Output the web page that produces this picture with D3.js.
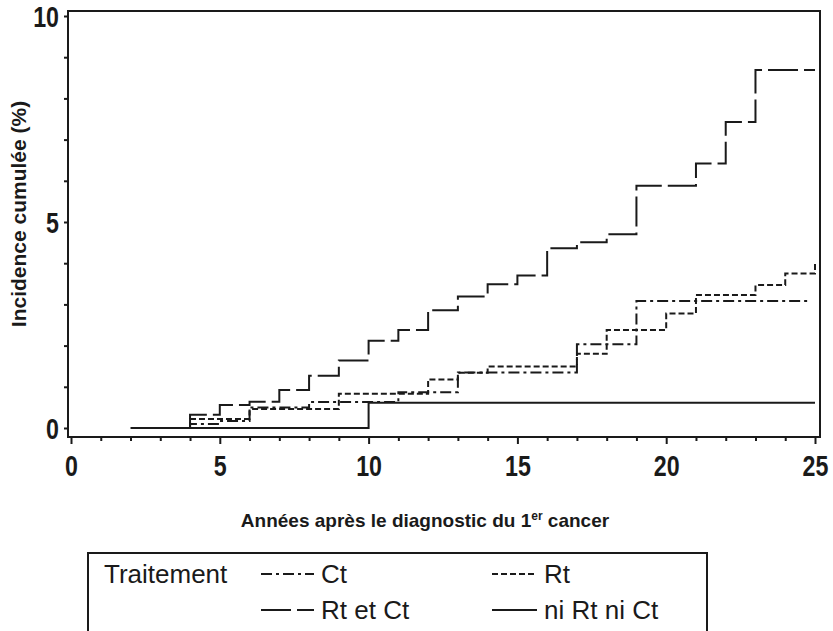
<!DOCTYPE html>
<html>
<head>
<meta charset="utf-8">
<script src="https://cdn.jsdelivr.net/npm/d3@7"></script>
<style>
    body { margin: 0; background: #fff; }
    svg { display: block; }
    .tick-num { font-family: "Liberation Sans", Arial, sans-serif; font-weight: bold; font-size: 29px; fill: #1a1a1a; }
    .axis-title { font-family: "Liberation Sans", Arial, sans-serif; font-weight: bold; fill: #1a1a1a; }
    .legend-text { font-family: "Liberation Sans", Arial, sans-serif; font-size: 26px; fill: #1a1a1a; }
</style>
</head>
<body>
<div id="chart"></div>
<script>
/* global d3 */

// cumulative incidence (%) - step values
var ctYears = [4, 4, 5, 6, 8, 11, 13, 17, 19, 24.8];
var ctValues = [0, 0.10, 0.17, 0.50, 0.63, 0.87, 1.35, 2.03, 3.08, 3.08];

var rtYears = [4, 4, 6, 9, 12, 13, 14, 17, 18, 20, 21, 23, 24, 25, 25];
var rtValues = [0, 0.22, 0.46, 0.83, 1.18, 1.34, 1.49, 1.80, 2.38, 2.78, 3.23, 3.47, 3.75, 3.75, 4.04];

var rtctYears = [4, 4, 5, 6, 7, 8, 9, 10, 11, 12, 13, 14, 15, 16, 17, 18, 19, 21, 22, 23, 25];
var rtctValues = [0, 0.32, 0.56, 0.64, 0.92, 1.27, 1.64, 2.12, 2.38, 2.86, 3.19, 3.49, 3.70, 4.36, 4.51, 4.70, 5.88, 6.42, 7.43, 8.69, 8.69];

var niYears = [2, 10, 25];
var niValues = [0, 0.61, 0.61];

var xTicks = d3.range(0, 26);
var yTicks = d3.range(0, 11);
var xLabels = [0, 5, 10, 15, 20, 25];
var yLabels = [0, 5, 10];

var seriesNames = ['Ct', 'Rt', 'Rt et Ct', 'ni Rt ni Ct'];

var series = [
    {name: 'Ct', years: ctYears, values: ctValues, dash: '11,4,3,4'},
    {name: 'Rt', years: rtYears, values: rtValues, dash: '6,3'},
    {name: 'Rt et Ct', years: rtctYears, values: rtctValues, dash: '30,6'},
    {name: 'ni Rt ni Ct', years: niYears, values: niValues, dash: null}
];

var width = 833, height = 631;
var ink = '#1a1a1a';
var narrow = 0.8; // digits in the picture are condensed

var svg = d3.select('#chart').append('svg')
        .attr('width', width)
        .attr('height', height);

var x = d3.scaleLinear().domain([0, 25]).range([71, 815]);
var y = d3.scaleLinear().domain([0, 10]).range([428, 16]);

// frame
svg.append('rect')
        .attr('x', 68)
        .attr('y', 11)
        .attr('width', 820 - 68)
        .attr('height', 437 - 11)
        .attr('fill', 'none')
        .attr('stroke', ink)
        .attr('stroke-width', 2);

// x axis
var xAxis = svg.append('g')
        .attr('transform', 'translate(0,437)')
        .call(d3.axisBottom(x)
                .tickValues(xTicks)
                .tickSize(4)
                .tickFormat(function (d) {
                    return xLabels.indexOf(d) >= 0 ? d : '';
                }));
xAxis.select('.domain').remove();
xAxis.selectAll('.tick line')
        .attr('stroke', ink)
        .attr('stroke-width', 2)
        .attr('y2', function (d) {
            return d % 5 === 0 ? 7 : 4;
        });
xAxis.selectAll('.tick text')
        .attr('class', 'tick-num')
        .attr('y', 39)
        .attr('dy', 0)
        .attr('transform', 'scale(' + narrow + ',1)');

// y axis
var yAxis = svg.append('g')
        .attr('transform', 'translate(68,0)')
        .call(d3.axisLeft(y)
                .tickValues(yTicks)
                .tickSize(4)
                .tickFormat(function (d) {
                    return yLabels.indexOf(d) >= 0 ? d : '';
                }));
yAxis.select('.domain').remove();
yAxis.selectAll('.tick line')
        .attr('stroke', ink)
        .attr('stroke-width', 2);
yAxis.selectAll('.tick text')
        .attr('class', 'tick-num')
        .attr('x', -9 / narrow)
        .attr('dy', '0.36em')
        .attr('transform', 'scale(' + narrow + ',1)');

// axis titles
var xTitle = svg.append('text')
        .attr('class', 'axis-title')
        .attr('x', 425)
        .attr('y', 527)
        .attr('text-anchor', 'middle')
        .style('font-size', '19px');
xTitle.append('tspan').text('Années après le diagnostic du 1');
xTitle.append('tspan')
        .attr('dy', -7)
        .style('font-size', '12px')
        .text('er');
xTitle.append('tspan')
        .attr('dy', 7)
        .text(' cancer');

svg.append('text')
        .attr('class', 'axis-title')
        .attr('transform', 'translate(26,214) rotate(-90)')
        .attr('text-anchor', 'middle')
        .style('font-size', '21px')
        .text('Incidence cumulée (%)');

// step curves
var line = d3.line()
        .curve(d3.curveStepAfter)
        .x(function (d) { return x(d[0]); })
        .y(function (d) { return y(d[1]); });

svg.append('g').selectAll('path')
        .data(series)
        .enter()
        .append('path')
        .attr('d', function (s) {
            return line(d3.zip(s.years, s.values));
        })
        .attr('fill', 'none')
        .attr('stroke', ink)
        .attr('stroke-width', 2)
        .attr('stroke-dasharray', function (s) { return s.dash; });

// legend
var legend = svg.append('g');
legend.append('rect')
        .attr('x', 88)
        .attr('y', 553)
        .attr('width', 707 - 88)
        .attr('height', 120)
        .attr('fill', 'none')
        .attr('stroke', ink)
        .attr('stroke-width', 2);
legend.append('text')
        .attr('class', 'legend-text')
        .attr('x', 104)
        .attr('y', 583)
        .text('Traitement');

var legendPos = [
    {x: 261, len: 53, y: 574},
    {x: 492, len: 45, y: 574},
    {x: 261, len: 53, y: 610},
    {x: 492, len: 45, y: 610}
];

var items = legend.selectAll('g.item')
        .data(series)
        .enter()
        .append('g')
        .attr('class', 'item')
        .attr('transform', function (s, i) {
            return 'translate(' + legendPos[i].x + ',' + legendPos[i].y + ')';
        });
items.append('line')
        .attr('x1', 0)
        .attr('x2', function (s, i) { return legendPos[i].len; })
        .attr('stroke', ink)
        .attr('stroke-width', 2)
        .attr('stroke-dasharray', function (s) { return s.dash; });
items.append('text')
        .attr('class', 'legend-text')
        .attr('x', function (s, i) { return legendPos[i].len + 7; })
        .attr('y', 9)
        .text(function (s, i) { return seriesNames[i]; });
</script>
</body>
</html>
